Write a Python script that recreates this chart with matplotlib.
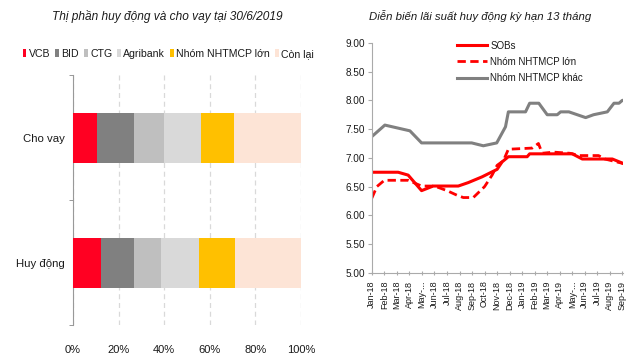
#recreates two charts: market share (stacked bars) and 13-month deposit rates

#importing packages
import numpy as np
import matplotlib.pyplot as plt
from matplotlib.ticker import FixedLocator

plt.rcParams['font.family'] = ['Liberation Sans', 'DejaVu Sans']

#left chart data (percent of total)
categories = ['Huy động', 'Cho vay']
banks = ['VCB', 'BID', 'CTG', 'Agribank', 'Nhóm NHTMCP lớn', 'Còn lại']
share_huy_dong = [12.2, 14.6, 12.0, 16.5, 16.0, 28.7]
share_cho_vay = [10.4, 16.2, 13.4, 16.2, 14.4, 29.4]
bank_colors = ['#ff0022', '#808080', '#bfbfbf', '#d9d9d9', '#ffc000', '#fde4d6']

#right chart data (x = months since Jan-18)
months = ['Jan-18', 'Feb-18', 'Mar-18', 'Apr-18', 'May-...', 'Jun-18', 'Jul-18',
          'Aug-18', 'Sep-18', 'Oct-18', 'Nov-18', 'Dec-18', 'Jan-19', 'Feb-19',
          'Mar-19', 'Apr-19', 'May-...', 'Jun-19', 'Jul-19', 'Aug-19', 'Sep-19']

sob_t = [0, 2.1, 2.9, 3.97, 4.9, 6.9, 7.7, 8.8, 10.0, 10.4, 10.9, 12.4, 12.6,
         16.0, 16.8, 19.2, 20.1]
sob_rate = [6.75, 6.75, 6.70, 6.43, 6.51, 6.51, 6.57, 6.67, 6.80, 6.93, 7.02,
            7.02, 7.07, 7.07, 6.98, 6.98, 6.90]

lon_t = [0, 0.4, 1.0, 2.9, 3.97, 5.0, 6.0, 6.8, 7.3, 8.1, 9.0, 9.6, 10.0, 10.5,
         10.9, 12.8, 13.3, 13.6, 14.5, 15.8, 16.6, 18.1, 18.6, 20.1]
lon_rate = [6.30, 6.50, 6.61, 6.61, 6.51, 6.51, 6.43, 6.35, 6.31, 6.31, 6.50,
            6.70, 6.87, 6.95, 7.15, 7.17, 7.25, 7.08, 7.10, 7.08, 7.04, 7.04,
            6.98, 6.90]

khac_t = [0, 1.04, 3.04, 3.97, 7.97, 8.9, 9.97, 10.67, 10.9, 12.27, 12.6, 13.33,
          14.0, 14.8, 15.07, 15.73, 17.07, 17.7, 18.8, 19.33, 19.73, 20.0, 20.1]
khac_rate = [7.37, 7.57, 7.47, 7.26, 7.26, 7.21, 7.26, 7.54, 7.80, 7.80, 7.95,
             7.95, 7.75, 7.75, 7.80, 7.80, 7.70, 7.75, 7.80, 7.95, 7.95, 8.00,
             8.00]

fig = plt.figure(figsize=(6.4, 3.6), dpi=100)
text_col = '#1a1a1a'

#---------- left: stacked horizontal bars ----------
ax1 = fig.add_axes([0.114, 0.097, 0.356, 0.694])
y = np.arange(len(categories))
shares = np.array([share_huy_dong, share_cho_vay])
left = np.zeros(len(categories))
for i, name in enumerate(banks):
    ax1.barh(y, shares[:, i], left=left, height=0.4, color=bank_colors[i],
             label=name, zorder=3)
    left += shares[:, i]

ax1.set_xlim(0, 100)
ax1.set_ylim(-0.5, 1.5)
ax1.set_xticks(np.arange(0, 101, 20))
ax1.set_xticklabels([f'{v}%' for v in range(0, 101, 20)])
ax1.set_yticks(y)
ax1.set_yticklabels(categories)
ax1.yaxis.set_minor_locator(FixedLocator([-0.5, 0.5, 1.5]))
ax1.tick_params(axis='y', which='major', length=0, pad=6, labelsize=8.2,
                labelcolor=text_col)
ax1.tick_params(axis='y', which='minor', length=3, color='#888888')
ax1.tick_params(axis='x', length=0, pad=14, labelsize=8, labelcolor=text_col)
ax1.grid(axis='x', linestyle=(0, (4, 3)), color='#d9d9d9', linewidth=0.9, zorder=0)
for s in ['top', 'right', 'bottom']:
    ax1.spines[s].set_visible(False)
ax1.spines['left'].set_color('#999999')

fig.text(0.262, 0.955, 'Thị phần huy động và cho vay tại 30/6/2019',
         ha='center', va='center', fontsize=8.6, style='italic', color=text_col)
fig.legend(*ax1.get_legend_handles_labels(), loc='center', ncol=6,
           bbox_to_anchor=(0.263, 0.85), frameon=False, fontsize=7.6,
           handlelength=0.35, handleheight=0.8, handletextpad=0.25,
           columnspacing=0.45, labelcolor=text_col)

#---------- right: deposit rates ----------
ax2 = fig.add_axes([0.581, 0.242, 0.393, 0.639])
l, = ax2.plot(sob_t, sob_rate, color='#ff0000', linewidth=2.2, label='SOBs')
z, = ax2.plot(lon_t, lon_rate, color='#ff0000', linewidth=2.0,
              linestyle=(0, (3, 1.6)), label='Nhóm NHTMCP lớn')
q, = ax2.plot(khac_t, khac_rate, color='#808080', linewidth=2.2,
              label='Nhóm NHTMCP khác')

ax2.set_xlim(0, 20.08)
ax2.set_ylim(5, 9)
ax2.set_yticks(np.arange(5, 9.01, 0.5))
ax2.set_yticklabels([f'{v:.2f}' for v in np.arange(5, 9.01, 0.5)])
ax2.set_xticks(np.arange(len(months)))
ax2.set_xticklabels(months, rotation=90)
ax2.tick_params(axis='y', length=3, color='#aaaaaa', labelsize=7.2,
                labelcolor=text_col, pad=2)
ax2.tick_params(axis='x', length=3, direction='inout', color='#aaaaaa',
                labelsize=6.5, labelcolor=text_col, pad=4)
for s in ['top', 'right']:
    ax2.spines[s].set_visible(False)
ax2.spines['left'].set_color('#aaaaaa')
ax2.spines['bottom'].set_color('#aaaaaa')

ax2.legend([l, z, q], ['SOBs', 'Nhóm NHTMCP lớn', 'Nhóm NHTMCP khác'],
           loc='upper left', bbox_to_anchor=(0.339, 1.01), frameon=False,
           borderpad=0, borderaxespad=0,
           fontsize=7, handlelength=3.1, handletextpad=0.3, labelspacing=0.65,
           labelcolor=text_col)

fig.text(0.75, 0.955, 'Diễn biến lãi suất huy động kỳ hạn 13 tháng',
         ha='center', va='center', fontsize=8.2, style='italic', color=text_col)

fig.savefig('out.png', dpi=100, facecolor='white')
